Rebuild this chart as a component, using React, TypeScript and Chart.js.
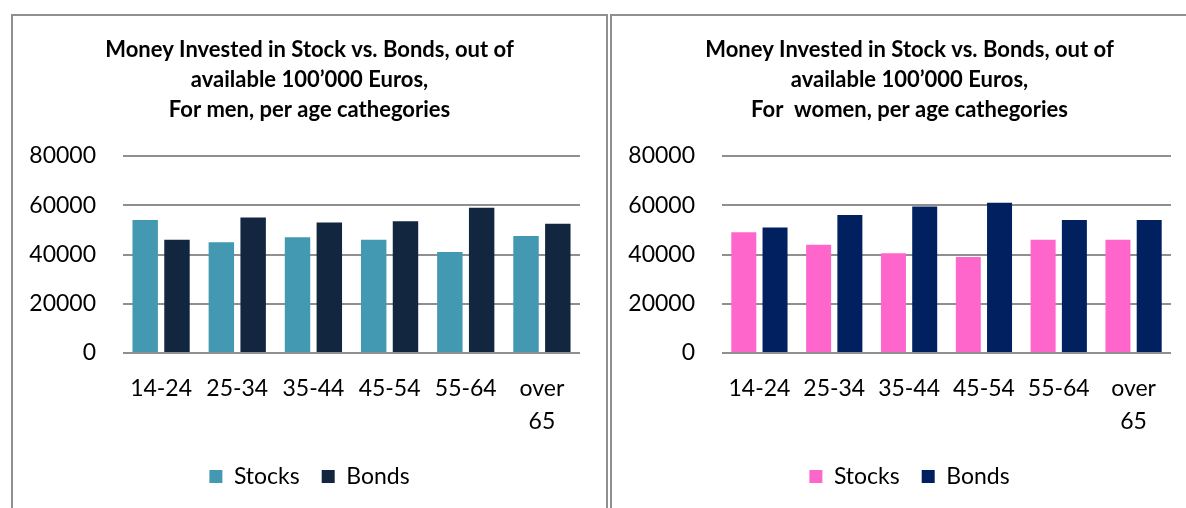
import React, { useEffect, useRef } from "react";
import { Chart, registerables } from "chart.js";

Chart.register(...registerables);

const categories: (string | string[])[] = ["14-24", "25-34", "35-44", "45-54", "55-64", ["over", "65"]];
const seriesNames = ["Stocks", "Bonds"];
const menStocks = [54000, 45000, 47000, 46000, 41000, 47500];
const menBonds = [46000, 55000, 53000, 53500, 59000, 52500];
const womenStocks = [49000, 44000, 40500, 39000, 46000, 46000];
const womenBonds = [51000, 56000, 59500, 61000, 54000, 54000];
const yTicks = [0, 20000, 40000, 60000, 80000];
const menTitle = ["Money Invested in Stock vs. Bonds, out of", "available 100\u2019000 Euros,", "For men, per age cathegories"];
const womenTitle = ["Money Invested in Stock vs. Bonds, out of", "available 100\u2019000 Euros,", "For  women, per age cathegories"];

const FONT = "Lato, 'Noto Sans', sans-serif";

type PanelProps = {
  title: string[];
  stocks: number[];
  bonds: number[];
  colors: [string, string];
  width: number;
  height: number;
  padRight: number;
};

function Panel({ title, stocks, bonds, colors, width, height, padRight }: PanelProps) {
  const ref = useRef<HTMLCanvasElement | null>(null);
  useEffect(() => {
    if (!ref.current) return;
    const chart = new Chart(ref.current, {
      type: "bar",
      data: {
        labels: categories,
        datasets: [
          { label: seriesNames[0], data: stocks, backgroundColor: colors[0], categoryPercentage: 0.835, barPercentage: 0.8 },
          { label: seriesNames[1], data: bonds, backgroundColor: colors[1], categoryPercentage: 0.835, barPercentage: 0.8 },
        ],
      },
      options: {
        animation: false,
        responsive: false,
        devicePixelRatio: 1,
        layout: { padding: { left: 0, right: 0, top: 0, bottom: 10 } },
        plugins: {
          title: {
            display: true,
            text: title,
            color: "#000",
            font: { family: FONT, size: 22, weight: "bold", lineHeight: "30px" },
            padding: { top: 19, bottom: 31 },
          },
          legend: {
            position: "bottom",
            labels: {
              color: "#000",
              font: { family: FONT, size: 23 },
              boxWidth: 13,
              boxHeight: 13,
              padding: 22,
            },
          },
          tooltip: { enabled: false },
        },
        scales: {
          x: {
            grid: { display: false },
            border: { display: false },
            afterFit: (scale: any) => {
              scale.height = scale.height - 6;
            },
            ticks: {
              color: "#000",
              font: { family: FONT, size: 23, lineHeight: "33px" },
              padding: 11,
              maxRotation: 0,
              autoSkip: false,
            },
          },
          y: {
            min: 0,
            max: 80000,
            afterBuildTicks: (scale: any) => {
              scale.ticks = yTicks.map((v) => ({ value: v }));
            },
            afterFit: (scale: any) => {
              scale.width = 110;
            },
            grid: { color: "#8f8f8f", lineWidth: 2, drawTicks: false },
            border: { display: false },
            ticks: {
              color: "#000",
              font: { family: FONT, size: 23 },
              padding: 27,
              callback: (v: any) => String(v),
            },
          },
          spacer: {
            type: "linear",
            position: "right",
            display: true,
            grid: { display: false },
            border: { display: false },
            ticks: { display: false },
            afterFit: (scale: any) => {
              scale.width = padRight;
            },
          },
        },
      },
    });
    return () => chart.destroy();
  }, []);
  return <canvas ref={ref} width={width} height={height} style={{ display: "block", width, height }} />;
}

export default function App() {
  return (
    <div style={{ position: "fixed", left: 0, top: 0, width: 1186, height: 508, overflow: "hidden", background: "#fff" }}>
      <div style={{ position: "absolute", left: 11, top: 14, width: 593, height: 520, border: "2px solid #8f8f8f" }}>
        <Panel title={menTitle} stocks={menStocks} bonds={menBonds} colors={["#4399B1", "#12263F"]} width={593} height={492} padRight={26} />
      </div>
      <div style={{ position: "absolute", left: 610, top: 14, width: 600, height: 520, border: "2px solid #8f8f8f" }}>
        <Panel title={womenTitle} stocks={womenStocks} bonds={womenBonds} colors={["#FF66CC", "#002060"]} width={595} height={492} padRight={36} />
      </div>
    </div>
  );
}
